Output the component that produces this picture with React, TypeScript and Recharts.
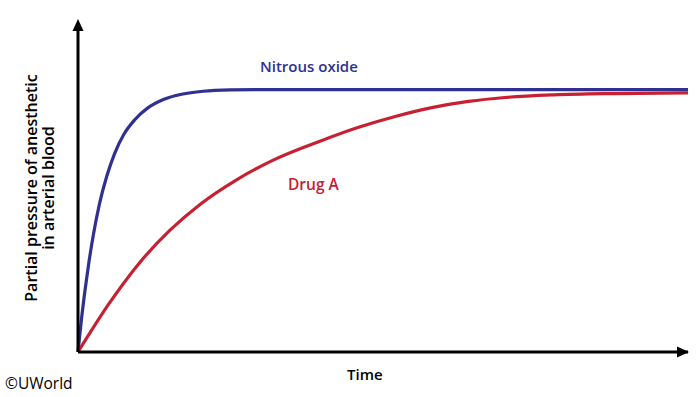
import React from 'react'
import { LineChart, Line, XAxis, YAxis } from 'recharts'

// time (x) and partial pressure (y), in 0–100 units
const nitrousTime = [0, 0.6, 1.2, 1.8, 2.5, 3.5, 4.7, 6, 7.5, 9.3, 11.5, 14, 17, 20.5, 25, 30, 40, 100]
const nitrousValue = [0, 10.5, 19.5, 27.5, 35.5, 45, 53.5, 60.5, 66.3, 70.8, 74.5, 77, 78.6, 79.5, 79.9, 80, 80, 80]

const drugATime = [0, 5, 10, 15, 20, 26, 32, 40, 46, 52, 58, 64, 70, 78, 88, 100]
const drugAValue = [0, 14.5, 27, 37, 45, 52.5, 58.5, 64.5, 68.5, 71.8, 74.5, 76.4, 77.6, 78.4, 78.8, 79]

const BLUE = '#2e3192'
const RED = '#c62032'
const FONT = '"Open Sans", sans-serif'

const nitrousData = nitrousTime.map((t, i) => ({ t, v: nitrousValue[i] }))
const drugAData = drugATime.map((t, i) => ({ t, v: drugAValue[i] }))

const App: React.FC = () => {
  return (
    <div style={{ position: 'absolute', left: 0, top: 0, width: 700, height: 397, background: '#fff' }}>
      <LineChart width={700} height={397} margin={{ top: 24, right: 12, left: 18, bottom: 15 }}>
        <defs>
          <marker id="arrowX" markerUnits="userSpaceOnUse" markerWidth={12} markerHeight={12}
            viewBox="0 0 12 12" refX={11} refY={6} orient="auto">
            <path d="M0,0.5 L12,6 L0,11.5 z" fill="#000" />
          </marker>
          <marker id="arrowY" markerUnits="userSpaceOnUse" markerWidth={12} markerHeight={12}
            viewBox="0 0 12 12" refX={7} refY={6} orient="auto-start-reverse">
            <path d="M0,0.5 L12,6 L0,11.5 z" fill="#000" />
          </marker>
        </defs>
        <XAxis
          type="number"
          dataKey="t"
          domain={[0, 100]}
          tick={false}
          tickLine={false}
          height={30}
          axisLine={{ stroke: '#000', strokeWidth: 3, markerEnd: 'url(#arrowX)' }}
        />
        <YAxis
          type="number"
          domain={[0, 100]}
          tick={false}
          tickLine={false}
          width={60}
          axisLine={{ stroke: '#000', strokeWidth: 3, markerStart: 'url(#arrowY)' }}
        />
        <Line data={nitrousData} dataKey="v" type="monotone" stroke={BLUE} strokeWidth={3.2}
          dot={false} activeDot={false} isAnimationActive={false} />
        <Line data={drugAData} dataKey="v" type="monotone" stroke={RED} strokeWidth={3.2}
          dot={false} activeDot={false} isAnimationActive={false} />
      </LineChart>

      {/* series labels */}
      <div style={{ position: 'absolute', left: 260, top: 58.7, fontFamily: FONT, fontWeight: 600, fontSize: 15, lineHeight: '15px', color: BLUE, whiteSpace: 'nowrap' }}>
        Nitrous oxide
      </div>
      <div style={{ position: 'absolute', left: 288, top: 176.9, fontFamily: FONT, fontWeight: 600, fontSize: 15.5, lineHeight: '15.5px', color: RED, whiteSpace: 'nowrap' }}>
        Drug A
      </div>

      {/* axis titles */}
      <div style={{ position: 'absolute', left: 347, top: 366.7, fontFamily: FONT, fontWeight: 600, fontSize: 15, lineHeight: '15px', color: '#000', whiteSpace: 'nowrap' }}>
        Time
      </div>
      <div style={{
        position: 'absolute', left: 40 - 150, top: 188 - 17, width: 300, height: 34,
        transform: 'rotate(-90deg)', textAlign: 'center', fontFamily: FONT, fontWeight: 600,
        fontSize: 16, lineHeight: '17px', color: '#000', whiteSpace: 'nowrap',
      }}>
        Partial pressure of anesthetic<br />in arterial blood
      </div>

      <div style={{ position: 'absolute', left: 5, top: 376.2, fontFamily: FONT, fontSize: 15.5, lineHeight: '15.5px', color: '#000', whiteSpace: 'nowrap' }}>
        ©UWorld
      </div>
    </div>
  )
}

export default App
